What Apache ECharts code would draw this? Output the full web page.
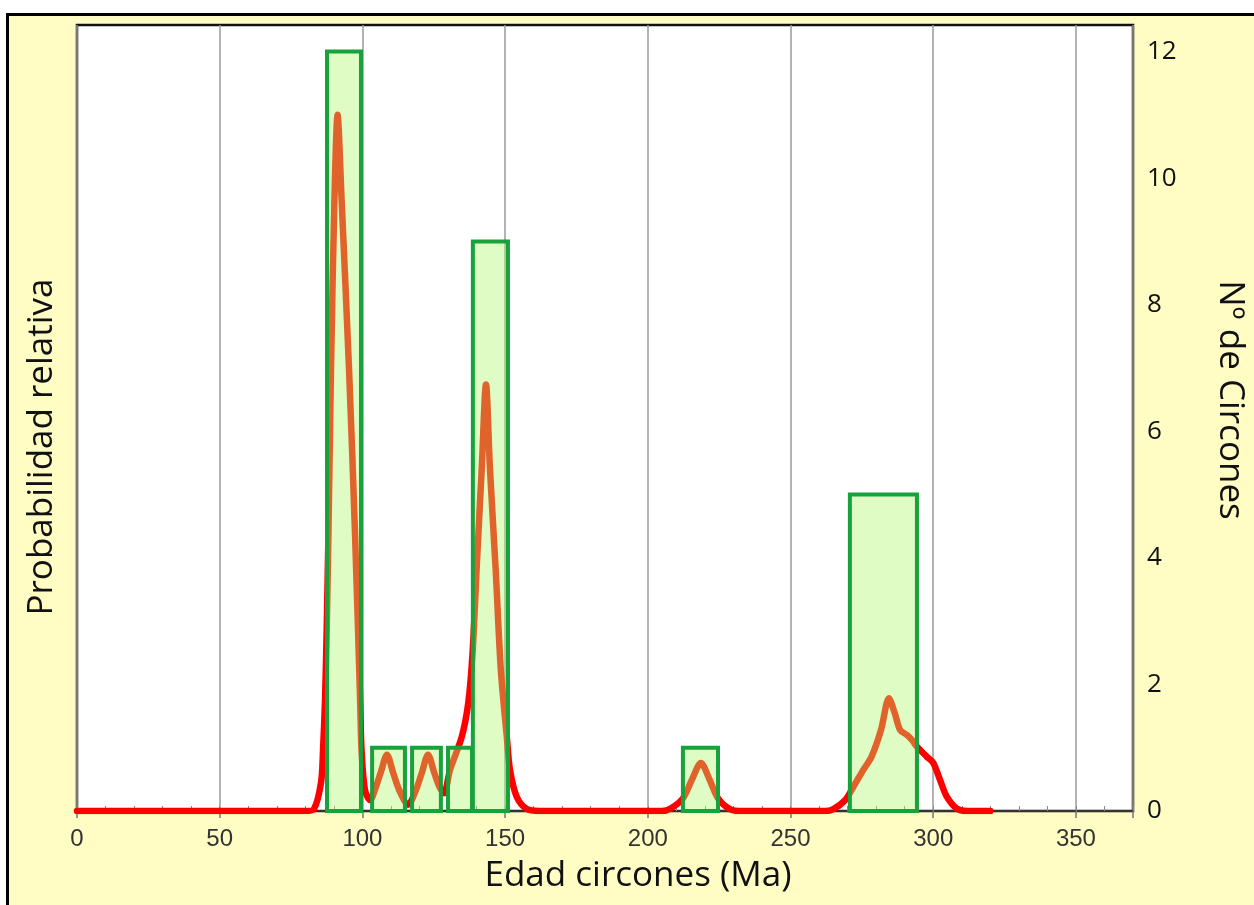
<!DOCTYPE html>
<html>
<head>
<meta charset="utf-8">
<script src="https://cdn.jsdelivr.net/npm/echarts@6/dist/echarts.min.js"></script>
<style>
html,body{margin:0;padding:0;background:#ffffff;}
#chart{width:1254px;height:905px;}
</style>
</head>
<body>
<div id="chart"></div>
<script>
// ---- Data ----
const xTicks = [0, 50, 100, 150, 200, 250, 300, 350];
const countTicks = [0, 2, 4, 6, 8, 10, 12];

// Histogram bins (age, Ma) and counts of zircons
const binStart = [87.6, 103.4, 117.4, 130.0, 138.7, 212.3, 270.8];
const binEnd   = [99.5, 114.9, 127.5, 138.4, 151.0, 224.6, 294.3];
const binCount = [12, 1, 1, 1, 9, 1, 5];

// Relative probability curve (age, Ma) and value (relative units)
const curveAge = [0, 80, 83, 85.5, 86.2, 86.9, 87.5, 88.1, 89.0, 90.2, 91.3, 92.7, 95.3, 97.4, 99.2, 99.7, 100.9, 102.7,
  104.5, 106.5, 108.6, 110.8, 113, 116, 118.5, 120.8, 123, 125.2, 127.2, 128.6, 130.7, 134.8, 137.1, 138.6, 140.0,
  141.8, 143.3, 144.7, 146.7, 148.5, 150.6, 151.7, 154.1, 157.6, 162, 205, 208, 212.3, 215.5, 218.6, 221.6, 224.6,
  228.8, 233, 262, 265, 269.1, 272, 275.5, 278.4, 281.7, 284.5, 286.5, 288.4, 290.8, 292.6, 294.2, 297.7, 300,
  302.4, 304.7, 308.2, 312, 320];
const curveProb = [0, 0, 0.03, 0.45, 0.96, 1.75, 2.9, 4.4, 7.0, 9.67, 11.0, 9.67, 7.0, 4.4, 1.75, 0.96, 0.33, 0.17,
  0.35, 0.62, 0.89, 0.6, 0.32, 0.1, 0.3, 0.6, 0.89, 0.6, 0.36, 0.28, 0.65, 1.17, 1.71, 2.5, 3.81,
  5.4, 6.74, 5.4, 3.81, 2.23, 1.17, 0.65, 0.22, 0.03, 0, 0, 0.04, 0.2, 0.5, 0.76, 0.5, 0.2,
  0.03, 0, 0, 0.03, 0.17, 0.38, 0.65, 0.86, 1.28, 1.78, 1.55, 1.28, 1.2, 1.12, 1.02, 0.86, 0.76,
  0.49, 0.23, 0.04, 0, 0];

const xTitle = 'Edad circones (Ma)';
const yLeftTitle = 'Probabilidad relativa';
const yRightTitle = 'Nº de Circones';

// ---- Chart ----
const chart = echarts.init(document.getElementById('chart'), null, {renderer: 'canvas'});
const YMAX = 12.42;
const titleFont = '35px "Open Sans", sans-serif';
const option = {
  animation: false,
  backgroundColor: '#ffffff',
  graphic: [
    {type: 'rect', z: -10, silent: true,
     shape: {x: 7.5, y: 14.5, width: 1300, height: 1000},
     style: {fill: '#fffdc4', stroke: '#000000', lineWidth: 3}},
    {type: 'text', rotation: Math.PI / 2, z: 5, x: 42, y: 447,
     style: {text: yLeftTitle, fill: '#111111', font: titleFont, align: 'center', verticalAlign: 'middle'}},
    {type: 'text', rotation: -Math.PI / 2, z: 5, x: 1230, y: 400,
     style: {text: yRightTitle, fill: '#111111', font: titleFont, align: 'center', verticalAlign: 'middle'}},
    {type: 'text', z: 5, x: 638, y: 876,
     style: {text: xTitle, fill: '#111111', font: titleFont, align: 'center', verticalAlign: 'middle'}}
  ],
  grid: {left: 77, right: 121, top: 25, bottom: 94, show: true, backgroundColor: '#ffffff',
         borderColor: '#111111', borderWidth: 2.5, containLabel: false},
  xAxis: [
    {type: 'value', min: 0, max: 370, interval: 50, position: 'bottom',
     axisLine: {show: true, onZero: false, lineStyle: {color: '#333333', width: 2}},
     axisTick: {show: true, inside: false, length: 7, lineStyle: {color: '#777777', width: 1.5}},
     axisLabel: {show: true, margin: 16, color: '#333333', fontSize: 24, fontFamily: '"Liberation Sans", Arial, sans-serif',
                 customValues: xTicks},
     splitLine: {show: true, lineStyle: {color: '#9a9a9a', width: 1.5}}},
    {type: 'value', min: 0, max: 370, interval: 10, position: 'bottom', gridIndex: 0,
     axisLine: {show: false},
     axisTick: {show: true, inside: true, length: 5, lineStyle: {color: '#888888', width: 1}},
     axisLabel: {show: false}, splitLine: {show: false}}
  ],
  yAxis: [
    {type: 'value', min: 0, max: YMAX, position: 'left',
     axisLine: {show: false}, axisTick: {show: false}, axisLabel: {show: false}, splitLine: {show: false}},
    {type: 'value', min: 0, max: YMAX, interval: 2, position: 'right',
     axisLine: {show: false}, axisTick: {show: false},
     axisLabel: {show: true, margin: 14, color: '#111111', fontSize: 26, fontFamily: '"Open Sans", sans-serif',
                 customValues: countTicks},
     splitLine: {show: false}}
  ],
  series: [
    {type: 'line', xAxisIndex: 0, yAxisIndex: 0, z: 2,
     data: curveAge.map((a, i) => [a, curveProb[i]]),
     showSymbol: false, smooth: 0.3,
     lineStyle: {color: '#ff0000', width: 6.5, cap: 'round', join: 'round'}},
    {type: 'custom', xAxisIndex: 0, yAxisIndex: 1, z: 3,
     data: binStart.map((s, i) => [s, binEnd[i], binCount[i]]),
     encode: {x: [0, 1], y: 2},
     renderItem: function (params, api) {
       const p0 = api.coord([api.value(0), api.value(2)]);
       const p1 = api.coord([api.value(1), 0]);
       return {type: 'rect',
               shape: {x: p0[0], y: p0[1], width: p1[0] - p0[0], height: p1[1] - p0[1]},
               style: {fill: 'rgba(178,247,111,0.4)', stroke: '#17a23c', lineWidth: 4}};
     }}
  ]
};
chart.setOption(option);
</script>
</body>
</html>
